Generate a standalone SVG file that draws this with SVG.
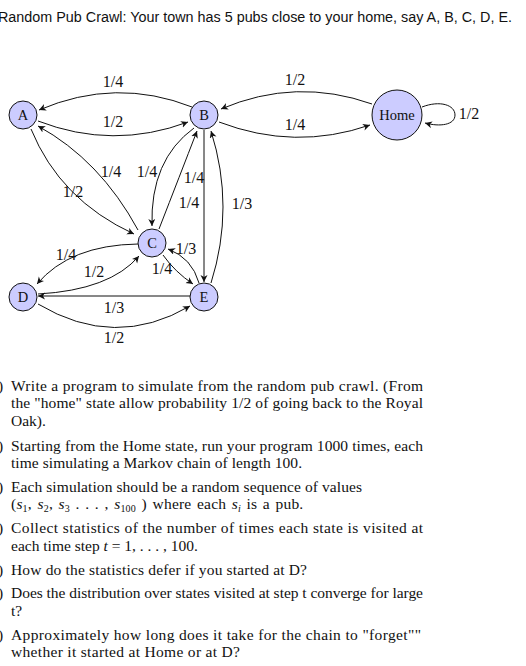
<svg xmlns="http://www.w3.org/2000/svg" width="526" height="666" viewBox="0 0 526 666">
<defs>
<marker id="arr" markerUnits="userSpaceOnUse" markerWidth="8" markerHeight="8" refX="7" refY="3.5" orient="auto">
<path d="M0,0 L7,3.5 L0,7 L2,3.5 z" fill="#111"/>
</marker>
<style>
.e{fill:none;stroke:#111;stroke-width:1;marker-end:url(#arr)}
.n{fill:#ccccff;stroke:#111;stroke-width:1}
.nl{font-family:"Liberation Serif","DejaVu Serif",serif;font-size:14.5px;fill:#111;text-anchor:middle}
.lb{font-family:"Liberation Serif","DejaVu Serif",serif;font-size:16px;fill:#111;text-anchor:middle}
.t{font-family:"Liberation Serif","DejaVu Serif",serif;font-size:15.5px;fill:#111}
.ti{font-family:"Liberation Sans",Arial,sans-serif;font-size:14px;fill:#111}
</style>
</defs>
<rect width="526" height="666" fill="#fff"/>
<text class="ti" x="-2" y="22" textLength="514" lengthAdjust="spacingAndGlyphs">Random Pub Crawl: Your town has 5 pubs close to your home, say A, B, C, D, E.</text>

<g id="connectors">
<path class="e" d="M192,107 Q116,77 39,110"/>
<path class="e" d="M38,121 Q113,150 188,122"/>
<path class="e" d="M372,104 Q296,77 221,109"/>
<path class="e" d="M219,122 Q295,151 370,125"/>
<path class="e" d="M422,107 C440,100 455,105 455,115 C455,125 440,127 425,123"/>
<path class="e" d="M31,129 Q60,200 134,234"/>
<path class="e" d="M138,230 Q100,160 38,126"/>
<path class="e" d="M194,128 Q150,160 152,226"/>
<path class="e" d="M159,229 Q180,175 197,131"/>
<path class="e" d="M204,130 L204,282"/>
<path class="e" d="M211,283 Q235,207 211,131"/>
<path class="e" d="M163,255 Q175,272 193,284"/>
<path class="e" d="M199,283 Q192,258 168,249"/>
<path class="e" d="M138,244 Q70,245 37,284"/>
<path class="e" d="M38,294 Q110,290 139,256"/>
<path class="e" d="M190,296 L38,296"/>
<path class="e" d="M38,304 Q115,350 190,306"/>
<text class="lb" x="113" y="87">1/4</text>
<text class="lb" x="113" y="127">1/2</text>
<text class="lb" x="295" y="85">1/2</text>
<text class="lb" x="295" y="130">1/4</text>
<text class="lb" x="469" y="119">1/2</text>
<text class="lb" x="73" y="197">1/2</text>
<text class="lb" x="111" y="177">1/4</text>
<text class="lb" x="147" y="177">1/4</text>
<text class="lb" x="194" y="183">1/4</text>
<text class="lb" x="189" y="208">1/4</text>
<text class="lb" x="242" y="209">1/3</text>
<text class="lb" x="162" y="274">1/4</text>
<text class="lb" x="186" y="254">1/3</text>
<text class="lb" x="66" y="260">1/4</text>
<text class="lb" x="94" y="277">1/2</text>
<text class="lb" x="114" y="313">1/3</text>
<text class="lb" x="114" y="343">1/2</text>
</g>

<g id="A"><circle class="n" cx="23" cy="115" r="14"/><text class="nl" x="23" y="120">A</text></g>
<g id="B"><circle class="n" cx="204" cy="115" r="14"/><text class="nl" x="204" y="120">B</text></g>
<g id="Home"><circle class="n" cx="397" cy="115" r="25"/><text class="nl" x="397" y="120">Home</text></g>
<g id="C"><circle class="n" cx="152" cy="243" r="14"/><text class="nl" x="152" y="248">C</text></g>
<g id="D"><circle class="n" cx="23" cy="297" r="14"/><text class="nl" x="23" y="302">D</text></g>
<g id="E"><circle class="n" cx="204" cy="297" r="14"/><text class="nl" x="204" y="302">E</text></g>

<g id="text">
<text class="t" x="-2" y="391">)</text>
<text class="t" x="11" y="391" textLength="412" lengthAdjust="spacing">Write a program to simulate from the random pub crawl. (From</text>
<text class="t" x="11" y="408" textLength="412" lengthAdjust="spacing">the "home" state allow probability 1/2 of going back to the Royal</text>
<text class="t" x="11" y="426">Oak).</text>
<text class="t" x="-2" y="451">)</text>
<text class="t" x="11" y="451" textLength="412" lengthAdjust="spacing">Starting from the Home state, run your program 1000 times, each</text>
<text class="t" x="11" y="468" textLength="291" lengthAdjust="spacing">time simulating a Markov chain of length 100.</text>
<text class="t" x="-2" y="492">)</text>
<text class="t" x="11" y="492" textLength="351" lengthAdjust="spacing">Each simulation should be a random sequence of values</text>
<text class="t" x="11" y="509" word-spacing="1.5" letter-spacing="0.2">(<tspan font-style="italic">s</tspan><tspan font-size="10" dy="3">1</tspan><tspan dy="-3">, </tspan><tspan font-style="italic">s</tspan><tspan font-size="10" dy="3">2</tspan><tspan dy="-3">, </tspan><tspan font-style="italic">s</tspan><tspan font-size="10" dy="3">3</tspan><tspan dy="-3"> . . . , </tspan><tspan font-style="italic">s</tspan><tspan font-size="10" dy="3">100</tspan><tspan dy="-3">  ) where each </tspan><tspan font-style="italic">s</tspan><tspan font-size="10" font-style="italic" dy="3">i</tspan><tspan dy="-3"> is a pub.</tspan></text>
<text class="t" x="-2" y="533">)</text>
<text class="t" x="11" y="533" textLength="412" lengthAdjust="spacing">Collect statistics of the number of times each state is visited at</text>
<text class="t" x="11" y="551">each time step <tspan font-style="italic">t</tspan> = 1, . . . , 100.</text>
<text class="t" x="-2" y="575">)</text>
<text class="t" x="11" y="575" textLength="296" lengthAdjust="spacing">How do the statistics defer if you started at D?</text>
<text class="t" x="-2" y="598">)</text>
<text class="t" x="11" y="598" textLength="412" lengthAdjust="spacing">Does the distribution over states visited at step t converge for large</text>
<text class="t" x="11" y="616">t?</text>
<text class="t" x="-2" y="640">)</text>
<text class="t" x="11" y="640" textLength="410" lengthAdjust="spacing">Approximately how long does it take for the chain to "forget""</text>
<text class="t" x="11" y="657" textLength="229" lengthAdjust="spacing">whether it started at Home or at D?</text>
</g>
</svg>
